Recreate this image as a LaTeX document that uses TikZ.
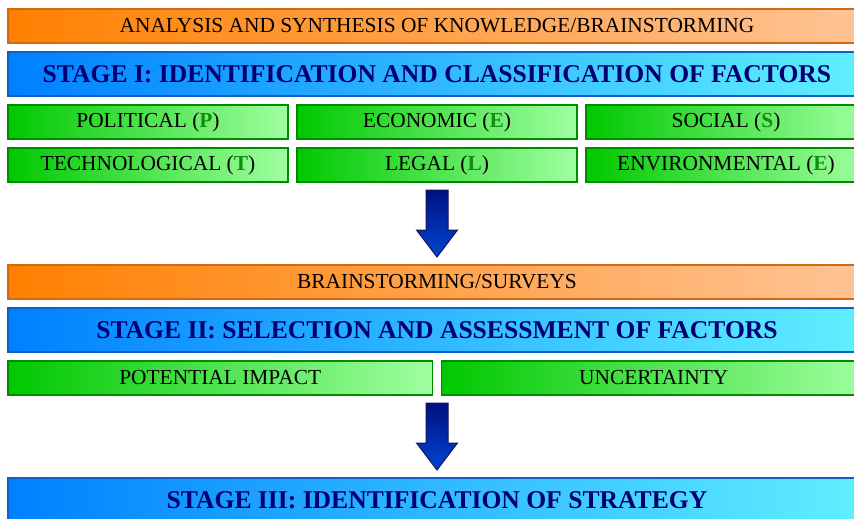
\documentclass[tikz,border=0pt]{standalone}
\usepackage{fontspec}
\setmainfont{Liberation Serif}
\usetikzlibrary{positioning}
\usetikzlibrary{calc}

\definecolor{orangeL}{RGB}{255,128,0}
\definecolor{orangeR}{RGB}{255,196,150}
\definecolor{orangeD}{RGB}{210,105,20}
\definecolor{blueL}{RGB}{0,128,255}
\definecolor{blueR}{RGB}{96,240,255}
\definecolor{blueD}{RGB}{16,96,200}
\definecolor{navy}{RGB}{0,0,112}
\definecolor{greenL}{RGB}{0,200,0}
\definecolor{greenR}{RGB}{160,255,160}
\definecolor{greenD}{RGB}{0,140,0}
\definecolor{greenT}{RGB}{20,140,20}
\definecolor{arrowTop}{RGB}{0,10,120}
\definecolor{arrowBot}{RGB}{0,70,210}
\definecolor{arrowD}{RGB}{20,20,90}

\tikzset{
  bar/.style={minimum height=34pt, inner sep=0pt, outer sep=0pt, line width=1.2pt},
  task/.style={bar, draw=orangeD, left color=orangeL, right color=orangeR,
    minimum width=858pt, font=\fontsize{21.4}{21.4}\selectfont},
  stage/.style={bar, draw=blueD, left color=blueL, right color=blueR,
    minimum width=858pt, minimum height=44pt, text=navy,
    font=\fontsize{25.6}{25.6}\selectfont\bfseries},
  factor/.style={bar, draw=greenD, left color=greenL, right color=greenR,
    minimum width=280pt, font=\fontsize{21.4}{21.4}\selectfont},
  wide/.style={factor, minimum width=424.5pt},
  flow/.style={draw=arrowD, line width=1pt, top color=arrowTop, bottom color=arrowBot,
    to path={($(\tikztostart)+(-11,-8)$) -- ($(\tikztotarget)+(-11,35)$)
      -- ($(\tikztotarget)+(-20.5,35)$) -- ($(\tikztotarget)+(0,8)$)
      -- ($(\tikztotarget)+(20.5,35)$) -- ($(\tikztotarget)+(11,35)$)
      -- ($(\tikztostart)+(11,-8)$) -- cycle}}
}
\newcommand{\ltr}[1]{\textbf{\textcolor{greenT}{#1}}}

\begin{document}
\begin{tikzpicture}[x=1pt,y=1pt,node distance=9pt]
        \useasboundingbox (0,0) rectangle (854,-519);
        \clip (0,0) rectangle (854,-519);
        % Stage I
        \node[task, anchor=north west] (kb) at (8,-9) {ANALYSIS AND SYNTHESIS OF KNOWLEDGE/BRAINSTORMING};
        \node[stage, below=of kb] (st1) {STAGE I: IDENTIFICATION AND CLASSIFICATION OF FACTORS};
        \node[factor, below=of st1.south west, anchor=north west] (pol) {POLITICAL (\ltr{P})};
        \node[factor, right=of pol] (eco) {ECONOMIC (\ltr{E})};
        \node[factor, right=of eco] (soc) {SOCIAL (\ltr{S})};
        \node[factor, below=of pol] (tec) {TECHNOLOGICAL (\ltr{T})};
        \node[factor, below=of eco] (leg) {LEGAL (\ltr{L})};
        \node[factor, below=of soc] (env) {ENVIRONMENTAL (\ltr{E})};
        % Stage II
        \node[task, below=83pt of leg] (bs) {BRAINSTORMING/SURVEYS};
        \node[stage, below=of bs] (st2) {STAGE II: SELECTION AND ASSESSMENT OF FACTORS};
        \node[wide, below=of st2.south west, anchor=north west] (imp) {POTENTIAL IMPACT};
        \node[wide, right=of imp] (unc) {UNCERTAINTY};
        % Stage III
        \node[stage, below=126pt of st2] (st3) {STAGE III: IDENTIFICATION OF STRATEGY};
        \coordinate (a2) at (imp.south -| st3.north);
        % Arrows
        \draw[flow] (leg.south) to (bs.north);
        \draw[flow] (a2) to (st3.north);
    \end{tikzpicture}
\end{document}
